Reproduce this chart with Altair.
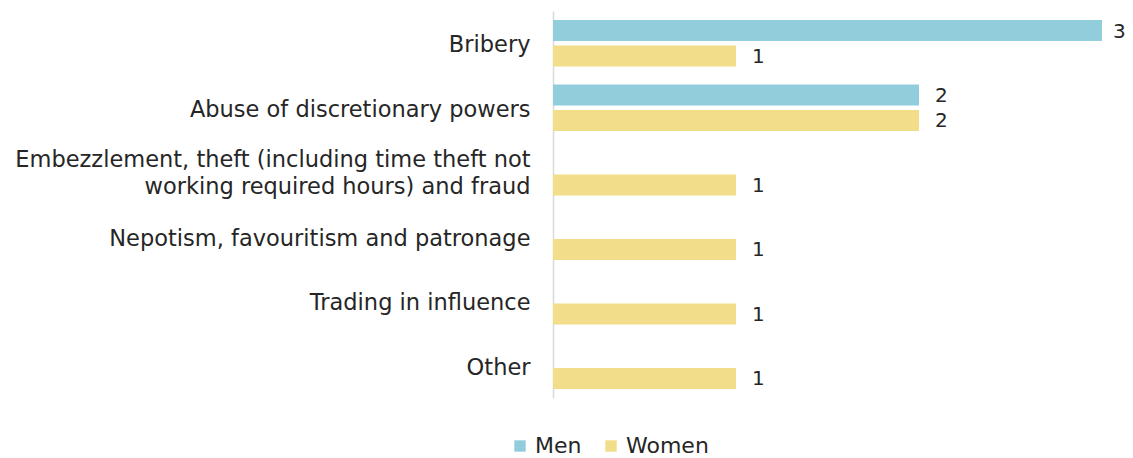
import altair as alt
import pandas as pd

categories = ["Bribery", "Abuse of discretionary powers",
              "Embezzlement, theft (including time theft not|working required hours) and fraud",
              "Nepotism, favouritism and patronage", "Trading in influence", "Other"]
men = [3, 2, None, None, None, None]
women = [1, 2, 1, 1, 1, 1]
series = ["Men", "Women"]
colors = ["#92CDDC", "#F2DE8A"]

rows = []
for c, m, w in zip(categories, men, women):
    if m is not None:
        rows.append({"category": c, "series": "Men", "value": m})
    if w is not None:
        rows.append({"category": c, "series": "Women", "value": w})
df = pd.DataFrame(rows)

FONT = "DejaVu Sans"

y = alt.Y("category:N", sort=categories, title=None,
          scale=alt.Scale(paddingInner=0.28, paddingOuter=0.14),
          axis=alt.Axis(labelExpr="split(datum.label, '|')", labelFontSize=22.5,
                        labelLimit=600, labelPadding=23, ticks=False,
                        labelOffset={"condition": {"test": "indexof(datum.value, '|') >= 0", "value": -12},
                                     "value": 2},
                        domainColor="#d9d9d9", domainWidth=1.5,
                        labelColor="#262626", labelFont=FONT, labelLineHeight=27))
yo = alt.YOffset("series:N", sort=series, scale=alt.Scale(domain=series, paddingInner=0.17))
x = alt.X("value:Q", scale=alt.Scale(domain=[0, 3], nice=False), axis=None)

base = alt.Chart(df).encode(y=y, yOffset=yo, x=x)
bars = base.mark_bar().encode(
    color=alt.Color("series:N", scale=alt.Scale(domain=series, range=colors),
                    legend=alt.Legend(title=None, orient="none", direction="horizontal",
                                      legendX=-44, legendY=424, symbolType="square",
                                      symbolSize=130, symbolStrokeWidth=0,
                                      labelFontSize=22, labelFont=FONT, labelOffset=4,
                                      labelColor="#262626", columnPadding=18))
)
labels_small = base.mark_text(align="left", baseline="middle", dx=16, dy=1, fontSize=20,
                              font=FONT, color="#262626").encode(text="value:Q").transform_filter(
    "datum.value < 3")
labels_big = base.mark_text(align="left", baseline="middle", dx=11, dy=1, fontSize=20,
                            font=FONT, color="#262626").encode(text="value:Q").transform_filter(
    "datum.value >= 3")

chart = (bars + labels_small + labels_big).properties(
    width=549, height=387, padding={"left": 545, "top": 3, "right": 23, "bottom": 60},
    autosize=alt.AutoSizeParams(type="none")
).configure(background="white").configure_view(stroke=None, strokeWidth=0)

chart.save("out.html", embed_options={"renderer": "svg", "actions": False})
